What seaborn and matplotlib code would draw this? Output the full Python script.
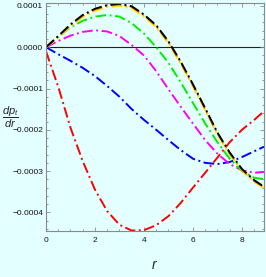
import numpy as np
import pandas as pd
import matplotlib
matplotlib.use("Agg")
import matplotlib.pyplot as plt
import seaborn as sns
from matplotlib.ticker import MultipleLocator, FuncFormatter

# ---- data ----
r = [0.0, 0.5, 1.0, 1.5, 2.0, 2.5, 3.0, 3.5, 4.0, 4.5, 5.0, 5.5, 6.0, 6.5, 7.0, 7.5, 8.0, 8.5, 8.9]

red = [-0.000010, -0.000096, -0.000195, -0.000276, -0.000345, -0.000397, -0.000430, -0.000444,
       -0.000443, -0.000431, -0.000409, -0.000377, -0.000340, -0.000304, -0.000267, -0.000230,
       -0.000200, -0.000176, -0.000155]
blue = [0.0, -0.000017, -0.000033, -0.000050, -0.000070, -0.000094, -0.000120, -0.000150,
        -0.000176, -0.000200, -0.000225, -0.000249, -0.000270, -0.000280, -0.000283, -0.000278,
        -0.000266, -0.000252, -0.000241]
magenta = [0.0, 0.000015, 0.000028, 0.000037, 0.000041, 0.000038, 0.000027, 0.000005,
           -0.000020, -0.000058, -0.000102, -0.000144, -0.000185, -0.000225, -0.000258,
           -0.000283, -0.000298, -0.000304, -0.000302]
green = [0.0, 0.000025, 0.000048, 0.000064, 0.000074, 0.000078, 0.000074, 0.000058,
         0.000033, 0.000000, -0.000038, -0.000085, -0.000135, -0.000185, -0.000230,
         -0.000270, -0.000300, -0.000316, -0.000320]
yellow = [0.0, 0.000023, 0.000050, 0.000073, 0.000088, 0.000097, 0.000100, 0.000094,
          0.000074, 0.000048, 0.000009, -0.000040, -0.000095, -0.000153, -0.000212,
          -0.000260, -0.000299, -0.000326, -0.000341]
orange = [0.0, 0.000025, 0.000053, 0.000076, 0.000091, 0.000100, 0.000103, 0.000097,
          0.000077, 0.000051, 0.000012, -0.000037, -0.000092, -0.000150, -0.000209,
          -0.000257, -0.000297, -0.000324, -0.000339]
black = [0.0, 0.000027, 0.000055, 0.000078, 0.000093, 0.000102, 0.000105, 0.000099,
         0.000079, 0.000053, 0.000014, -0.000035, -0.000090, -0.000148, -0.000207,
         -0.000255, -0.000295, -0.000322, -0.000338]

series = [("blue", blue, "#0000ff"), ("red", red, "#ff0000"), ("magenta", magenta, "#ff00ff"),
          ("green", green, "#00ee00"), ("yellow", yellow, "#ffe600"), ("orange", orange, "#ff8c00"),
          ("black", black, "#000000")]

xticks = [0, 2, 4, 6, 8]
yticks = [-0.0004, -0.0003, -0.0002, -0.0001, 0.0, 0.0001]

# ---- figure ----
sns.set_theme(style="white")
plt.rcParams["font.family"] = ["Liberation Sans Narrow", "Liberation Sans", "DejaVu Sans"]
plt.rcParams["mathtext.fontset"] = "custom"
plt.rcParams["mathtext.it"] = "Liberation Sans:italic"
plt.rcParams["mathtext.rm"] = "Liberation Sans"

fig = plt.figure(figsize=(2.66, 2.77), dpi=100)
fig.patch.set_facecolor("#e3ffff")
ax = fig.add_axes([46 / 266, 1 - 231 / 277, (264 - 46) / 266, (231 - 3) / 277])
ax.set_facecolor("#e3ffff")

for name, vals, col in series:
    df = pd.DataFrame({"r": r, "v": vals})
    sns.lineplot(data=df, x="r", y="v", ax=ax, color=col, lw=1.4,
                 linestyle=(0, (5.5, 1.8, 1, 1.8)), sort=False)

ax.axhline(0, color="#222222", lw=0.8, zorder=0.5)

ax.set_xlim(0, 8.9)
ax.set_ylim(-0.000445, 0.000107)
ax.set_xticks(xticks)
ax.set_yticks(yticks)
ax.xaxis.set_minor_locator(MultipleLocator(0.5))
ax.yaxis.set_minor_locator(MultipleLocator(0.00002))


def yfmt(v, pos):
    s = f"{v:.4f}"
    if s.startswith("-"):
        s = "\u2212" + s[1:]
    if s == "\u22120.0000":
        s = "0.0000"
    return s


ax.yaxis.set_major_formatter(FuncFormatter(yfmt))
ax.xaxis.set_major_formatter(FuncFormatter(lambda v, p: f"{v:g}"))

for sp in ax.spines.values():
    sp.set_color("#8a8a8a")
    sp.set_linewidth(0.8)
    sp.set_visible(True)

ax.tick_params(which="both", direction="in", top=True, right=True, bottom=True, left=True,
               color="#8a8a8a", width=0.6, labelsize=6, labelcolor="#111111")
ax.tick_params(which="major", length=3)
ax.tick_params(which="minor", length=1.6)
ax.tick_params(axis="y", pad=2)
ax.tick_params(axis="x", pad=4)

ax.set_xlabel("$r$", fontsize=10)
ax.xaxis.set_label_coords(0.5, -0.12)
ax.set_ylabel(r"$\dfrac{dp_t}{dr}$", fontsize=8, rotation=0, va="center", ha="center")
ax.yaxis.set_label_coords(-0.165, 0.5)

fig.savefig("out.png", dpi=100, facecolor=fig.get_facecolor())
